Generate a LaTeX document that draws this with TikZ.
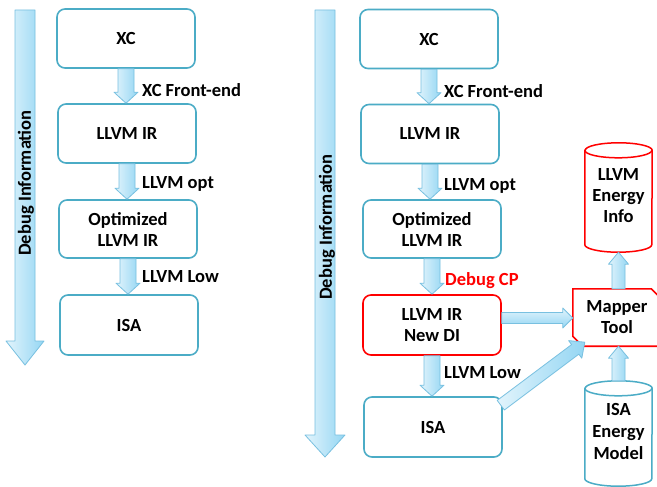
\documentclass[tikz,border=0pt]{standalone}
\usepackage{fontspec}
\setmainfont{Carlito}
\usetikzlibrary{calc}
\definecolor{boxblue}{RGB}{75,172,198}
\definecolor{arrcyan}{RGB}{148,214,243}
\definecolor{arrlight}{RGB}{226,244,252}
\definecolor{arredge}{RGB}{120,192,224}
\definecolor{redc}{RGB}{255,0,0}

% block arrow: [style]{from}{to}{half shaft}{half head}{head length}
\newcommand{\blockarrow}[6][]{%
  \path[#1] let \p1=(#2), \p2=(#3), \n1={atan2(\y2-\y1,\x2-\x1)} in
    ($(\p1)+(\n1+90:#4)$) -- ($(\p2)+(\n1+180:#6)+(\n1+90:#4)$)
    -- ($(\p2)+(\n1+180:#6)+(\n1+90:#5)$) -- (\p2)
    -- ($(\p2)+(\n1+180:#6)+(\n1-90:#5)$) -- ($(\p2)+(\n1+180:#6)+(\n1-90:#4)$)
    -- ($(\p1)+(\n1-90:#4)$) -- cycle;}

% cylinder outline around a node: {node}{colour}{y radius}{x radius}
\newcommand{\cylout}[4]{%
  \draw[draw=#2, line width=1.5pt] ([yshift=-#3]#1.north west) -- ([yshift=#3]#1.south west)
    arc[start angle=180, end angle=360, x radius=#4, y radius=#3]
    -- ([yshift=-#3]#1.north east)
    arc[start angle=0, end angle=180, x radius=#4, y radius=#3] -- cycle;
  \draw[draw=#2, line width=1.5pt] ([yshift=-#3]#1.north west)
    arc[start angle=180, end angle=360, x radius=#4, y radius=#3];}

\tikzset{
  txt/.style={font=\bfseries\fontsize{18.5}{21}\selectfont},
  box/.style={txt, draw=boxblue, line width=1.6pt, rounded corners=8pt, fill=white,
    minimum width=138pt, minimum height=59pt, align=center, inner sep=2pt},
  redbox/.style={box, draw=redc},
  lbl/.style={txt, anchor=west, inner sep=0pt},
  plain/.style={txt, align=center, inner sep=0pt},
  barr/.style={left color=arrlight, right color=arrcyan, draw=arredge, line width=0.8pt, line join=round},
  barrh/.style={top color=arrlight, bottom color=arrcyan, draw=arredge, line width=0.8pt, line join=round},
}

\begin{document}
\begin{tikzpicture}[x=1pt,y=-1pt]
\clip (0,0) rectangle (657,487);
\fill[white] (0,0) rectangle (657,487);

% ---------------- left flow ----------------
\coordinate (ldtop) at (25,10);
\coordinate (ldtip) at (25,365);
\blockarrow[barr]{ldtop}{ldtip}{10pt}{19pt}{24pt}
\node[txt, rotate=90, inner sep=0pt] (ldtext) at (26,183) {Debug Information};

\node[box] (lxc) at (126,38.5) {XC};
\node[box] (lir) at (127,133.5) {LLVM IR};
\node[box, minimum height=58pt] (lopt) at (128,229) {Optimized\\LLVM IR};
\node[box, minimum height=60pt] (lisa) at (129,325) {ISA};

\blockarrow[barr]{lxc.south}{lxc.south |- lir.north}{8pt}{12pt}{11pt}
\blockarrow[barr]{lir.south}{lir.south |- lopt.north}{8pt}{12pt}{11pt}
\blockarrow[barr]{lopt.south}{lopt.south |- lisa.north}{8pt}{12pt}{11pt}

\node[lbl] (l1) at (142,90) {XC Front-end};
\node[lbl] (l2) at (142,184) {LLVM opt};
\node[lbl] (l3) at (142,277) {LLVM Low};

% ---------------- right flow ----------------
\coordinate (rdtop) at (325,10);
\coordinate (rdtip) at (325,457);
\blockarrow[barr]{rdtop}{rdtip}{10pt}{20pt}{22pt}
\node[txt, rotate=90, inner sep=0pt] (rdtext) at (327,227) {Debug Information};

\node[box] (rxc) at (429,39) {XC};
\node[box] (rir) at (430,134) {LLVM IR};
\node[box, minimum height=58pt] (ropt) at (432,229) {Optimized\\LLVM IR};
\node[redbox, minimum height=60pt] (rdi) at (432,325) {LLVM IR\\New DI};
\node[box, minimum height=60pt] (risa) at (433,427) {ISA};

\blockarrow[barr]{rxc.south}{rxc.south |- rir.north}{8pt}{12pt}{11pt}
\blockarrow[barr]{rir.south}{rir.south |- ropt.north}{8pt}{12pt}{11pt}
\blockarrow[barr]{ropt.south}{ropt.south |- rdi.north}{8pt}{12pt}{11pt}
\blockarrow[barr]{rdi.south}{rdi.south |- risa.north}{8pt}{12pt}{11pt}

\node[lbl] (r1) at (444,91) {XC Front-end};
\node[lbl] (r2) at (444,186) {LLVM opt};
\node[lbl, text=redc] (r3) at (445,281) {Debug CP};
\node[lbl] (r4) at (444,373) {LLVM Low};

% ---------------- mapper and databases ----------------
\node[plain, minimum width=88pt, minimum height=57pt] (mapper) at (617,317.5) {Mapper\\Tool};
\draw[redc, line width=1.6pt] (mapper.north west) -- ([xshift=-10pt]mapper.north east)
  -- ([yshift=-10pt]mapper.north east) -- (mapper.south east)
  -- ([xshift=10pt]mapper.south west) -- ([yshift=10pt]mapper.south west) -- cycle;

\node[plain, minimum width=67pt, minimum height=109pt] (ei) at (618.5,197.5)
  {\raisebox{-4pt}{\begin{tabular}{@{}c@{}}LLVM\\Energy\\Info\end{tabular}}};
\cylout{ei}{redc}{7.5pt}{33.5pt}

\node[plain, minimum width=67pt, minimum height=105pt] (iem) at (618.5,433.5)
  {\raisebox{6pt}{\begin{tabular}{@{}c@{}}ISA\\[1pt]Energy\\[1pt]Model\end{tabular}}};
\cylout{iem}{boxblue}{7.5pt}{33.5pt}

\coordinate (hstart) at ([yshift=7pt]rdi.east);
\blockarrow[barrh]{hstart}{hstart -| mapper.west}{5.5pt}{10pt}{10pt}

\coordinate (dstart) at ([xshift=-2pt,yshift=-9pt]risa.north east);
\coordinate (dtip) at ([xshift=12pt,yshift=4pt]mapper.south west);
\blockarrow[barr]{dstart}{dtip}{6pt}{11pt}{12pt}

\blockarrow[barr]{ei.south |- mapper.north}{ei.south}{6.5pt}{10pt}{12pt}
\blockarrow[barr]{iem.north}{iem.north |- mapper.south}{6.5pt}{10pt}{12pt}
\end{tikzpicture}
\end{document}
